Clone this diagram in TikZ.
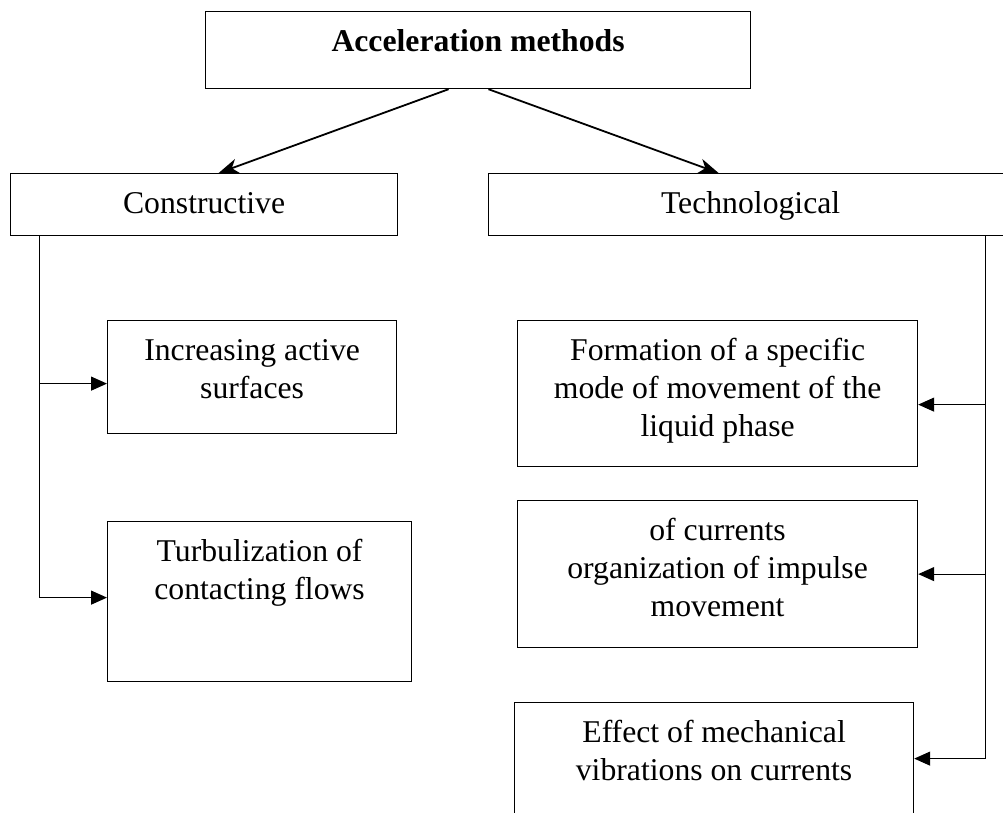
\documentclass[tikz,border=0pt]{standalone}
\usepackage{fontspec}
\setmainfont{Liberation Serif}
\usetikzlibrary{arrows.meta,calc}
\newcommand{\boxtext}[3]{\parbox[c][#2pt][t]{#1pt}{\centering\rule{0pt}{40pt}#3}}
\begin{document}
\begin{tikzpicture}[x=1pt,y=-1pt,
  box/.style={draw, line width=1.2pt, inner sep=0pt, anchor=north west,
    font=\fontsize{31.7}{38}\selectfont},
  toparrow/.style={line width=1.8pt, -{Stealth[length=20pt,width=15pt,inset=6pt]}},
  side/.style={line width=1.2pt, -{Triangle[length=16pt,width=14pt]}}]
\clip (0,0) rectangle (1003,812);
\fill[white] (0,0) rectangle (1003,812);
\node[box] (top) at (205,11) {\boxtext{545}{77}{\textbf{Acceleration methods}}};
\node[box] (cons) at (10,173) {\boxtext{387}{62}{Constructive}};
\node[box] (tech) at (488,173) {\boxtext{524}{62}{Technological}};
\node[box] (inc) at (107,320) {\boxtext{289}{113}{Increasing active\\surfaces}};
\node[box] (turb) at (107,521) {\boxtext{304}{160}{Turbulization of\\contacting flows}};
\node[box] (form) at (517,320) {\boxtext{400}{146}{Formation of a specific\\mode of movement of the\\liquid phase}};
\node[box] (curr) at (517,500) {\boxtext{400}{147}{of currents\\organization of impulse\\movement}};
\node[box] (eff) at (514,702) {\boxtext{399}{128}{Effect of mechanical\\vibrations on currents}};
\draw[toparrow] ($(top.south west)!0.446!(top.south east)$) -- ($(cons.north west)!0.5375!(cons.north east)$);
\draw[toparrow] ($(top.south west)!0.519!(top.south east)$) -- ($(tech.north west)!0.439!(tech.north east)$);
\coordinate (cl) at ($(cons.south west)!0.075!(cons.south east)$);
\coordinate (cr) at ($(tech.south west)!0.9466!(tech.south east)$);
\coordinate (incin) at ($(inc.west)+(0,6.5)$);
\coordinate (turbin) at ($(turb.west)+(0,-4)$);
\coordinate (formin) at ($(form.east)+(0,11)$);
\coordinate (currin) at (curr.east);
\coordinate (effin) at ($(eff.east)+(0,-8)$);
\draw[side] (cl) |- (turbin);
\draw[side] (cl |- incin) -- (incin);
\draw[side] (cr) |- (effin);
\draw[side] (cr |- formin) -- (formin);
\draw[side] (cr |- currin) -- (currin);
\end{tikzpicture}
\end{document}
